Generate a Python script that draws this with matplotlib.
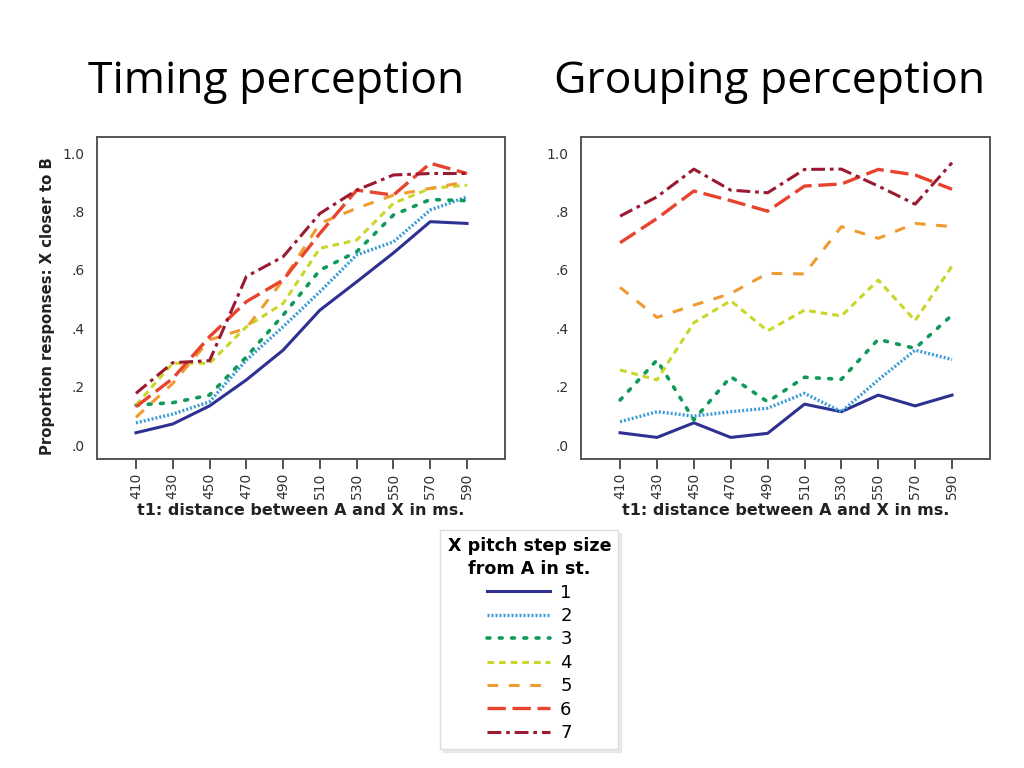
import matplotlib
matplotlib.use("Agg")
import matplotlib.pyplot as plt

x_vals = [410, 430, 450, 470, 490, 510, 530, 550, 570, 590]
series_labels = ["1", "2", "3", "4", "5", "6", "7"]

timing = {
    "1": [0.042, 0.072, 0.134, 0.223, 0.325, 0.462, 0.559, 0.658, 0.765, 0.759],
    "2": [0.076, 0.106, 0.148, 0.291, 0.405, 0.525, 0.651, 0.696, 0.805, 0.850],
    "3": [0.137, 0.145, 0.171, 0.302, 0.445, 0.599, 0.662, 0.788, 0.841, 0.837],
    "4": [0.137, 0.280, 0.280, 0.405, 0.485, 0.674, 0.702, 0.828, 0.879, 0.890],
    "5": [0.095, 0.211, 0.360, 0.400, 0.565, 0.759, 0.811, 0.856, 0.879, 0.902],
    "6": [0.131, 0.228, 0.371, 0.491, 0.565, 0.725, 0.873, 0.856, 0.965, 0.930],
    "7": [0.177, 0.282, 0.289, 0.577, 0.645, 0.793, 0.873, 0.925, 0.930, 0.930],
}
grouping = {
    "1": [0.042, 0.026, 0.076, 0.026, 0.040, 0.140, 0.114, 0.171, 0.134, 0.171],
    "2": [0.080, 0.114, 0.099, 0.114, 0.126, 0.177, 0.114, 0.223, 0.325, 0.293],
    "3": [0.154, 0.291, 0.086, 0.234, 0.148, 0.232, 0.225, 0.362, 0.331, 0.445],
    "4": [0.257, 0.223, 0.419, 0.494, 0.391, 0.462, 0.442, 0.565, 0.426, 0.613],
    "5": [0.540, 0.437, 0.479, 0.519, 0.588, 0.586, 0.748, 0.708, 0.759, 0.748],
    "6": [0.693, 0.776, 0.870, 0.837, 0.801, 0.887, 0.894, 0.944, 0.925, 0.876],
    "7": [0.784, 0.850, 0.945, 0.873, 0.864, 0.944, 0.945, 0.887, 0.825, 0.967],
}
y_ticks = [0.0, 0.2, 0.4, 0.6, 0.8, 1.0]
y_tick_labels = [".0", ".2", ".4", ".6", ".8", "1.0"]

colors = {
    "1": "#2e3192", "2": "#3b9bd6", "3": "#0f9a5a", "4": "#cbd62a",
    "5": "#f09a30", "6": "#e8432e", "7": "#9a1a32",
}
styles = {
    "1": dict(linestyle="-", linewidth=2.2),
    "2": dict(linestyle=(0, (0.6, 0.6)), linewidth=2.4),
    "3": dict(linestyle=(0, (0.8, 2.6)), linewidth=2.6, dash_capstyle="round"),
    "4": dict(linestyle=(0, (2.2, 1.6)), linewidth=2.2),
    "5": dict(linestyle=(0, (3.5, 3.5)), linewidth=2.2),
    "6": dict(linestyle=(0, (5.5, 2.0)), linewidth=2.4),
    "7": dict(linestyle=(0, (4.5, 1.6, 1.2, 1.6)), linewidth=2.2),
}

fig = plt.figure(figsize=(10.24, 7.68), dpi=100)
title_font = "Open Sans"
ax1 = fig.add_axes([0.0947, 0.4023, 0.3984, 0.4193])
ax2 = fig.add_axes([0.5674, 0.4023, 0.3994, 0.4193])

for ax, data in ((ax1, timing), (ax2, grouping)):
    for s in series_labels:
        ax.plot(x_vals, data[s], color=colors[s], label=s, **styles[s])
    ax.set_xlim(388.8, 610.6)
    ax.set_ylim(-0.048, 1.055)
    ax.set_xticks(x_vals)
    ax.set_xticklabels([str(v) for v in x_vals], rotation=90, fontsize=10, color="#333333")
    ax.set_yticks(y_ticks)
    ax.set_yticklabels(y_tick_labels, fontsize=10, color="#333333")
    ax.tick_params(axis="y", length=0, pad=9)
    ax.tick_params(axis="x", length=7, width=1.2, color="#333333", pad=3, direction="out")
    for sp in ax.spines.values():
        sp.set_color("#555555")
        sp.set_linewidth(1.4)
    ax.set_xlabel("t1: distance between A and X in ms.", fontsize=11.5,
                  fontweight="bold", color="#222222", labelpad=3)

ax1.set_ylabel("Proportion responses: X closer to B", fontsize=10.7,
               fontweight="bold", color="#222222")
ax1.yaxis.set_label_coords(-0.103, 0.475)

fig.text(0.2695, 0.893, "Timing perception", fontsize=32, family=title_font,
         ha="center", va="center")
fig.text(0.752, 0.893, "Grouping perception", fontsize=32, family=title_font,
         ha="center", va="center")

handles, labels = ax1.get_legend_handles_labels()
leg = fig.legend(handles, labels, loc="center", bbox_to_anchor=(0.517, 0.167),
                 title="X pitch step size\nfrom A in st.",
                 title_fontproperties={"weight": "bold", "size": 12.6},
                 fontsize=13, handlelength=3.5, labelspacing=0.3,
                 frameon=True, fancybox=False,
                 shadow={"color": "#d8d8d8"},
                 edgecolor="#dddddd", borderpad=0.4, handletextpad=0.55)
leg.get_title().set_multialignment("center")
leg.get_title().set_linespacing(1.35)

fig.savefig("out.png", dpi=100)
